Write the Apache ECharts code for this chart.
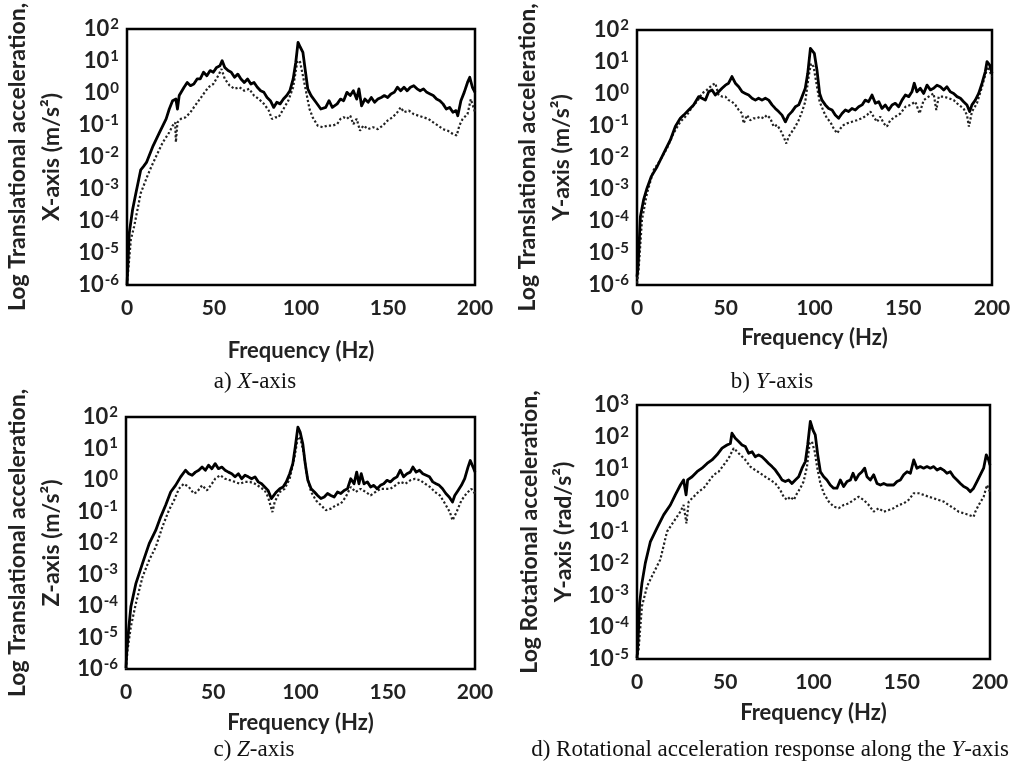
<!DOCTYPE html>
<html>
<head>
<meta charset="utf-8">
<script src="https://cdn.jsdelivr.net/npm/echarts@6/dist/echarts.min.js"></script>
<style>
  body { margin: 0; background: #fff; }
  #main { width: 1021px; height: 761px; }
</style>
</head>
<body>
<div id="main"></div>
<script>
  // [frequency Hz, log10 of acceleration]
  var xAxisSolid = [[0,-6],[1.3,-4.38],[3.2,-3.65],[5.1,-3.13],[7.9,-2.4],[9.4,-2.3],[11.2,-2.17],[15,-1.65],[18.7,-1.23],[22.5,-0.81],[24.3,-0.5],[26.2,-0.24],[28.1,-0.19],[29,-0.5],[30,-0.08],[32.8,0.18],[34.6,0.33],[36.5,0.23],[38.4,0.28],[40.3,0.44],[42.1,0.44],[44,0.65],[45.9,0.54],[47.8,0.7],[49.6,0.65],[51.5,0.8],[53.4,0.85],[54.7,1.01],[56.2,0.8],[58.1,0.7],[59.9,0.65],[61.8,0.49],[63.7,0.59],[65.5,0.44],[67.4,0.33],[69.3,0.44],[71.2,0.28],[73,0.33],[74.9,0.18],[76.8,0.07],[78.7,0.02],[80.5,-0.14],[82.4,-0.24],[84.3,-0.45],[86.1,-0.29],[88,-0.34],[89.9,-0.19],[91.8,-0.08],[93.6,0.07],[95.5,0.44],[97,0.96],[98.3,1.58],[99.6,1.43],[101.1,1.27],[102.6,0.65],[103.9,0.13],[105.8,-0.08],[108.6,-0.29],[111.4,-0.5],[114.2,-0.45],[116.1,-0.24],[118,-0.45],[120.8,-0.34],[122.7,-0.19],[124.5,-0.24],[126.4,0.02],[128.3,-0.08],[130.1,0.07],[132,-0.19],[133.3,0.13],[134.8,-0.4],[136.7,-0.19],[138.6,-0.29],[140.4,-0.14],[142.3,-0.29],[144.2,-0.19],[146.1,-0.14],[147.9,-0.08],[149.8,-0.14],[151.7,-0.03],[153.6,0.02],[155.4,0.18],[157.3,0.07],[159.2,0.18],[161,0.07],[162.9,0.18],[164.8,0.23],[166.7,0.13],[168.5,0.07],[170.4,0.13],[172.3,0.02],[174.2,-0.03],[176,-0.08],[177.9,-0.19],[179.8,-0.24],[181.6,-0.34],[183.5,-0.5],[185.4,-0.45],[187.3,-0.6],[189.1,-0.55],[190.1,-0.71],[191.9,-0.24],[193.8,0.02],[195.7,0.33],[197,0.49],[198.5,0.18],[200,0.02]];
  var xAxisDotted = [[0,-6],[2.2,-4.59],[4.1,-4.17],[7.9,-3.13],[11.6,-2.61],[14,-2.3],[16.9,-1.96],[20.6,-1.54],[24.3,-1.23],[26.2,-1.02],[27.7,-0.92],[28.1,-1.54],[29,-0.92],[30.9,-0.81],[33.7,-0.76],[36.5,-0.6],[38.4,-0.45],[41.2,-0.24],[44,-0.03],[46.8,0.18],[49.6,0.28],[52.4,0.54],[54.3,0.75],[56.2,0.44],[59,0.23],[61.8,0.13],[64.6,0.18],[67.4,0.07],[70.2,0.13],[73,-0.08],[75.8,-0.19],[78.7,-0.34],[81.5,-0.55],[83.3,-0.81],[85.2,-0.76],[87.1,-0.76],[89.9,-0.5],[92.7,-0.24],[95.5,0.18],[97.8,0.96],[99.3,1.01],[101.1,0.54],[103,0.02],[104.9,-0.5],[106.7,-0.76],[109.6,-1.02],[112.4,-1.07],[115.2,-1.02],[118,-1.02],[120.8,-0.97],[122.7,-0.81],[124.5,-0.76],[126.4,-0.81],[128.3,-0.71],[130.1,-0.97],[132,-0.81],[133.9,-1.18],[135.8,-1.02],[138.6,-1.13],[141.4,-1.07],[144.2,-1.13],[147,-1.02],[149.8,-0.86],[152.6,-0.76],[155.4,-0.6],[157.3,-0.45],[159.2,-0.6],[162,-0.55],[164.8,-0.66],[167.6,-0.71],[170.4,-0.76],[173.2,-0.81],[176,-0.92],[178.8,-1.02],[181.6,-1.13],[184.4,-1.18],[187.3,-1.28],[189.5,-1.33],[191,-1.02],[192.9,-0.81],[195.7,-0.66],[197.6,-0.19],[200,-0.6]];

  var yAxisSolid = [[0,-5.74],[0.6,-5.43],[1.9,-3.86],[3.7,-3.33],[5.6,-2.97],[8,-2.6],[11.3,-2.29],[15,-1.87],[18.8,-1.45],[21.6,-1.03],[24.4,-0.77],[26.3,-0.67],[29.1,-0.51],[31.9,-0.35],[34.7,-0.09],[36.6,-0.14],[38.5,-0.2],[40.4,0.06],[42.3,0.12],[44.1,-0.04],[46,0.06],[47.9,0.17],[49.8,0.27],[51.6,0.33],[53.5,0.54],[55.4,0.33],[57.3,0.22],[59.2,0.06],[61,0.01],[62.9,-0.04],[64.8,-0.14],[66.7,-0.2],[68.5,-0.14],[70.4,-0.2],[72.3,-0.14],[74.2,-0.2],[76.1,-0.35],[77.9,-0.46],[79.8,-0.56],[81.7,-0.67],[83.6,-0.88],[85.4,-0.67],[87.3,-0.56],[89.2,-0.41],[91.1,-0.35],[93,-0.09],[94.8,0.17],[96.2,0.64],[97.7,1.42],[98.6,1.48],[99.9,1.27],[101.4,0.74],[102.9,0.01],[104.2,-0.2],[106.1,-0.35],[108,-0.46],[109.9,-0.51],[111.7,-0.67],[113.6,-0.77],[115.5,-0.62],[117.4,-0.51],[119.2,-0.56],[121.1,-0.46],[123,-0.51],[124.9,-0.41],[126.8,-0.35],[128.6,-0.2],[130.5,-0.25],[132.4,-0.04],[134.3,-0.3],[136.2,-0.25],[138,-0.46],[139.9,-0.35],[141.8,-0.51],[143.7,-0.35],[145.5,-0.3],[147.4,-0.41],[149.3,-0.2],[151.2,-0.04],[153.1,-0.09],[154.9,0.06],[156.2,0.33],[157.7,0.06],[159.6,0.17],[161.5,0.01],[163.4,0.27],[165.3,0.12],[167.1,0.17],[169,0.27],[170.9,0.22],[172.8,0.12],[174.6,0.22],[176.5,0.06],[178.4,0.01],[180.3,-0.09],[182.2,-0.14],[184,-0.25],[185.9,-0.35],[187.4,-0.56],[188.7,-0.35],[190.6,-0.2],[192.5,0.01],[194.4,0.33],[196.2,0.69],[197.2,1.01],[198.7,0.9],[200,0.64]];
  var yAxisDotted = [[0,-5.95],[0.9,-5.53],[2.8,-3.96],[5.6,-3.13],[9.4,-2.39],[13.1,-2.08],[16.9,-1.71],[20.6,-1.24],[24.4,-0.88],[28.1,-0.67],[31.9,-0.35],[33.8,-0.25],[36.6,0.01],[39.4,0.12],[42.3,0.27],[44.1,0.33],[46,-0.04],[47.9,-0.09],[49.8,-0.09],[51.6,-0.2],[53.5,-0.25],[55.4,-0.35],[57.3,-0.51],[59.2,-0.62],[60.1,-0.93],[62,-0.67],[63.8,-0.83],[65.7,-0.77],[67.6,-0.77],[69.5,-0.72],[71.4,-0.77],[73.2,-0.67],[75.1,-0.77],[77,-1.03],[78.9,-0.98],[80.8,-1.14],[82.6,-1.35],[84.1,-1.56],[85.4,-1.35],[87.3,-1.19],[89.2,-1.03],[91.1,-0.83],[93,-0.56],[94.8,-0.25],[96.7,0.54],[98,0.95],[99.5,0.85],[101.4,0.22],[102.9,-0.25],[105.2,-0.56],[107,-0.77],[108.9,-0.88],[110.8,-1.09],[112.7,-1.24],[114.6,-1.09],[116.4,-0.98],[118.3,-0.93],[121.1,-0.88],[123.9,-0.83],[126.8,-0.77],[129.6,-0.67],[131.5,-0.56],[133.3,-0.72],[135.2,-0.88],[137.1,-0.72],[139,-0.93],[140.8,-1.03],[142.7,-0.83],[145.5,-0.72],[148.4,-0.62],[151.2,-0.41],[154,-0.35],[156.8,-0.25],[159.2,-0.62],[161.5,-0.2],[164.3,-0.09],[167.1,0.01],[168.6,-0.51],[170,-0.09],[172.8,-0.09],[175.6,-0.14],[178.4,-0.2],[181.2,-0.35],[184,-0.46],[185.9,-0.67],[187,-1.03],[188.7,-0.56],[191.5,-0.3],[194.4,0.22],[196.2,0.59],[197.6,0.85],[200,0.54]];

  var zAxisSolid = [[0,-5.97],[0.4,-5.49],[1.5,-4.75],[2.8,-4.02],[5.7,-3.28],[9.5,-2.64],[13.3,-2.02],[17,-1.6],[19.9,-1.17],[22.7,-0.8],[25.6,-0.38],[28.4,-0.17],[31.3,0.1],[34.1,0.31],[36,0.2],[37.9,0.15],[39.8,0.25],[41.7,0.31],[43.6,0.41],[45.5,0.31],[47.3,0.47],[49.2,0.36],[51.1,0.52],[53,0.36],[54.9,0.41],[56.8,0.31],[58.7,0.25],[60.6,0.2],[62.5,0.1],[64.4,0.2],[66.3,0.04],[68.2,0.15],[70.1,0.1],[72,0.04],[73.9,0.1],[75.8,-0.06],[77.7,-0.12],[79.5,-0.22],[81.4,-0.33],[83.3,-0.59],[84.3,-0.65],[86.2,-0.38],[88.1,-0.28],[90,-0.22],[91.9,-0.06],[93.8,0.2],[95.6,0.52],[97,1.05],[98.5,1.68],[99.8,1.52],[101.3,1.15],[102.7,0.52],[104.2,-0.01],[106.1,-0.28],[108,-0.38],[109.8,-0.49],[111.7,-0.59],[113.6,-0.54],[115.5,-0.43],[117.4,-0.49],[119.3,-0.54],[121.2,-0.38],[123.1,-0.43],[125,-0.33],[126.9,-0.28],[128.8,0.04],[130.7,-0.12],[132.2,0.25],[133.5,-0.12],[134.8,0.2],[136.4,-0.12],[138.3,-0.06],[140.2,-0.22],[142,-0.17],[143.9,-0.28],[145.8,-0.17],[147.7,-0.12],[149.6,-0.01],[151.5,-0.06],[153.4,0.04],[155.3,0.1],[157.2,0.31],[159.1,0.1],[161,0.2],[162.9,0.25],[164.4,0.41],[166.3,0.25],[168.2,0.31],[170.1,0.2],[172,0.15],[173.9,0.1],[175.8,-0.06],[177.7,-0.12],[179.5,-0.17],[181.4,-0.28],[183.3,-0.43],[185.2,-0.54],[187.1,-0.7],[188.4,-0.49],[190.3,-0.33],[192.2,-0.17],[194.1,0.04],[196,0.41],[197.3,0.62],[198.9,0.41],[200,0.25]];
  var zAxisDotted = [[0,-6],[0.9,-5.39],[2.8,-4.65],[5.7,-3.91],[9.5,-3.07],[13.3,-2.54],[17.1,-2.12],[20.9,-1.48],[24.6,-0.96],[27.5,-0.65],[30.3,-0.28],[33.1,-0.12],[36,-0.22],[38.8,-0.43],[40.7,-0.38],[43.6,-0.17],[46.4,-0.33],[49.2,-0.12],[51.1,0.04],[54,0.15],[56.8,0.04],[59.7,-0.01],[62.5,-0.06],[65.3,-0.12],[68.2,-0.06],[71,-0.06],[73.9,-0.12],[76.7,-0.22],[79.5,-0.33],[81.4,-0.54],[83.9,-1.02],[85.2,-0.7],[88.1,-0.38],[90.9,-0.28],[93.8,0.04],[96.6,0.73],[98.5,1.37],[100,1.31],[101.9,0.84],[103.8,0.1],[106.1,-0.38],[108.9,-0.65],[111.7,-0.8],[114.6,-0.96],[117.4,-0.91],[120.3,-0.8],[123.1,-0.75],[125.9,-0.54],[128.8,-0.22],[131.6,-0.38],[134.5,-0.28],[137.3,-0.38],[140.2,-0.49],[143,-0.38],[145.8,-0.28],[148.7,-0.28],[151.5,-0.28],[154.4,-0.17],[157.2,-0.06],[160,-0.12],[162.9,-0.01],[165.7,0.04],[168.6,-0.01],[171.4,-0.12],[174.2,-0.22],[177.1,-0.38],[179.9,-0.49],[182.8,-0.75],[185.6,-1.02],[187.1,-1.28],[189.4,-1.02],[192.2,-0.65],[195.1,-0.43],[197.9,-0.28],[200,-0.43]];

  var rotSolid = [[0,-4.97],[0.4,-4.7],[1.5,-3.24],[2.8,-2.61],[4.7,-1.98],[7.6,-1.3],[11.3,-0.88],[15.1,-0.46],[18.9,-0.15],[21.7,0.17],[24.6,0.48],[26.4,0.64],[27.4,0.59],[27.8,0.17],[28.7,0.64],[31.2,0.74],[34,0.9],[36.8,1.01],[39.7,1.16],[42.5,1.27],[45.3,1.43],[48.2,1.64],[51,1.74],[52.9,1.79],[53.8,2.11],[55.7,1.95],[57.6,1.85],[59.5,1.74],[61.4,1.69],[63.3,1.48],[65.2,1.53],[67,1.37],[68.9,1.43],[70.8,1.37],[72.7,1.27],[74.6,1.16],[76.5,1.06],[78.4,0.95],[80.3,0.8],[82.2,0.64],[84,0.59],[85.9,0.64],[87.8,0.53],[89.7,0.64],[91.6,0.74],[93.5,1.01],[95.4,1.22],[96.7,1.74],[98.2,2.48],[99.7,2.21],[101,2.06],[102.4,1.43],[103.9,0.9],[105.8,0.74],[107.6,0.64],[109.5,0.48],[111.4,0.38],[113.3,0.38],[115.2,0.64],[117.1,0.43],[119,0.59],[120.9,0.64],[122.4,0.85],[123.9,0.64],[125.6,0.8],[127.5,0.9],[129,1.01],[130.3,0.74],[132.2,0.64],[134.1,0.8],[136,0.53],[137.9,0.48],[139.8,0.53],[141.6,0.48],[143.5,0.48],[145.4,0.48],[147.3,0.59],[149.2,0.64],[151.1,0.8],[153,0.9],[154.9,0.85],[156.8,1.27],[158.6,1.01],[160.5,1.06],[162.4,1.01],[164.3,1.06],[166.2,1.01],[168.1,1.06],[170,0.95],[171.9,1.01],[173.7,0.95],[175.6,0.85],[177.5,0.9],[179.4,0.74],[181.3,0.64],[183.2,0.53],[185.1,0.43],[187,0.38],[188.9,0.27],[190.7,0.38],[192.6,0.59],[194.5,0.8],[196.4,1.01],[197.9,1.43],[199.2,1.27],[200,1.11]];
  var rotDotted = [[0,-5],[0.9,-4.7],[2.8,-3.34],[5.7,-2.71],[9.4,-2.29],[13.2,-1.87],[17,-0.99],[20.8,-0.67],[24.6,-0.36],[26.4,-0.15],[28,-0.73],[29.3,-0.04],[32.1,0.11],[34.9,0.27],[37.8,0.38],[40.6,0.59],[43.4,0.8],[46.3,0.9],[49.1,1.11],[51.9,1.32],[54.8,1.64],[56.7,1.53],[58.5,1.43],[61.4,1.27],[64.2,1.06],[67,0.95],[69.9,0.85],[72.7,0.74],[75.5,0.64],[78.4,0.53],[81.2,0.32],[83.1,0.11],[85,0.01],[86.9,0.11],[88.8,0.01],[90.7,0.22],[92.5,0.38],[94.4,0.59],[96.3,1.06],[97.8,1.79],[99.1,1.85],[100.7,1.53],[102,1.06],[103.9,0.53],[105.8,0.22],[108.6,-0.04],[111.4,-0.2],[114.3,-0.25],[117.1,-0.15],[119.9,-0.1],[122.8,0.01],[125.6,0.11],[128.4,0.01],[131.3,-0.15],[134.1,-0.36],[136.9,-0.25],[139.8,-0.36],[142.6,-0.31],[145.4,-0.25],[148.3,-0.15],[151.1,-0.1],[153.9,0.01],[156.8,0.22],[159.6,0.22],[162.4,0.17],[165.3,0.11],[168.1,0.06],[170.9,0.01],[173.7,-0.04],[176.6,-0.15],[179.4,-0.25],[182.2,-0.36],[185.1,-0.41],[187.9,-0.46],[190.7,-0.52],[191.7,-0.36],[193.6,-0.15],[196.4,0.11],[198.3,0.48],[200,0.27]];

  var freqTicks = [0, 50, 100, 150, 200];
  var yTitles = [
    'Log Translational acceleration,\nX-axis (m/s²)',
    'Log Translational acceleration,\nY-axis (m/s²)',
    'Log Translational acceleration,\nZ-axis (m/s²)',
    'Log Rotational acceleration,\nY-axis (rad/s²)'
  ];
  var yRanges = [[1e-6, 1e2], [1e-6, 1e2], [1e-6, 1e2], [1e-5, 1e3]];

  var chart = echarts.init(document.getElementById('main'));

  var grids = [
    { left: 119, top: 29, width: 356, height: 256 },
    { left: 637, top: 30, width: 355, height: 255 },
    { left: 123, top: 417, width: 352, height: 252 },
    { left: 637, top: 405, width: 353, height: 254 }
  ];
  var xNameGap = [55, 42, 43, 43];
  var yNameGap = [58, 58, 57, 56];
  var labelFont = 'Lato';

  function toPoints(arr) {
    return arr.map(function (p) { return [p[0], Math.pow(10, p[1])]; });
  }

  function powLabel(v) {
    var e = Math.round(Math.log10(v));
    return '{b|10}{s|' + (e < 0 ? '-' + (-e) : e) + '}';
  }

  var xAxes = [], yAxes = [];
  grids.forEach(function (g, i) {
    g.show = true;
    g.borderColor = '#000';
    g.borderWidth = 2.5;
    g.backgroundColor = '#fff';
    xAxes.push({
      gridIndex: i, type: 'value', min: 0, max: 200, interval: 50,
      name: 'Frequency (Hz)', nameLocation: 'middle', nameGap: xNameGap[i],
      nameTextStyle: { fontFamily: labelFont, fontWeight: 'bold', fontSize: 22, color: '#222' },
      axisLine: { show: false }, axisTick: { show: false }, splitLine: { show: false },
      axisLabel: { fontFamily: labelFont, fontWeight: 'bold', fontSize: 21, color: '#222', margin: 13 }
    });
    yAxes.push({
      gridIndex: i, type: 'log', logBase: 10, min: yRanges[i][0], max: yRanges[i][1], interval: 1,
      name: yTitles[i], nameLocation: 'middle', nameRotate: 90, nameGap: yNameGap[i],
      nameTextStyle: { fontFamily: labelFont, fontWeight: 'bold', fontSize: 23, color: '#222', lineHeight: 34 },
      axisLine: { show: false }, axisTick: { show: false }, splitLine: { show: false },
      axisLabel: {
        margin: 8, formatter: powLabel,
        rich: {
          b: { fontFamily: labelFont, fontWeight: 'bold', fontSize: 22, color: '#222', lineHeight: 25 },
          s: { fontFamily: labelFont, fontWeight: 'bold', fontSize: 15, color: '#222', lineHeight: 25, verticalAlign: 'top', padding: [0, 0, 9, 1] }
        }
      }
    });
  });

  var solids = [xAxisSolid, yAxisSolid, zAxisSolid, rotSolid];
  var dotteds = [xAxisDotted, yAxisDotted, zAxisDotted, rotDotted];
  var series = [];
  for (var i = 0; i < 4; i++) {
    series.push({
      type: 'line', xAxisIndex: i, yAxisIndex: i, showSymbol: false, data: toPoints(dotteds[i]),
      lineStyle: { color: '#222', width: 2.2, type: 'dotted' }, z: 2
    });
    series.push({
      type: 'line', xAxisIndex: i, yAxisIndex: i, showSymbol: false, data: toPoints(solids[i]),
      lineStyle: { color: '#000', width: 2.8, join: 'round' }, z: 3
    });
  }

  var capRich = {
    n: { fontFamily: 'Liberation Serif', fontSize: 23, fontWeight: 'normal', color: '#111' },
    i: { fontFamily: 'Liberation Serif', fontSize: 23, fontWeight: 'normal', fontStyle: 'italic', color: '#111' }
  };
  function caption(text, x, y) {
    return { left: x, top: y, textAlign: 'center', text: text, textStyle: { fontWeight: 'normal', rich: capRich } };
  }

  chart.setOption({
    animation: false,
    title: [
      caption('{n|a) }{i|X}{n|-axis}', 250, 365),
      caption('{n|b) }{i|Y}{n|-axis}', 767, 365),
      caption('{n|c) }{i|Z}{n|-axis}', 249, 733),
      caption('{n|d) Rotational acceleration response along the }{i|Y}{n|-axis}', 765, 733)
    ],
    grid: grids,
    xAxis: xAxes,
    yAxis: yAxes,
    series: series
  });
</script>
</body>
</html>
